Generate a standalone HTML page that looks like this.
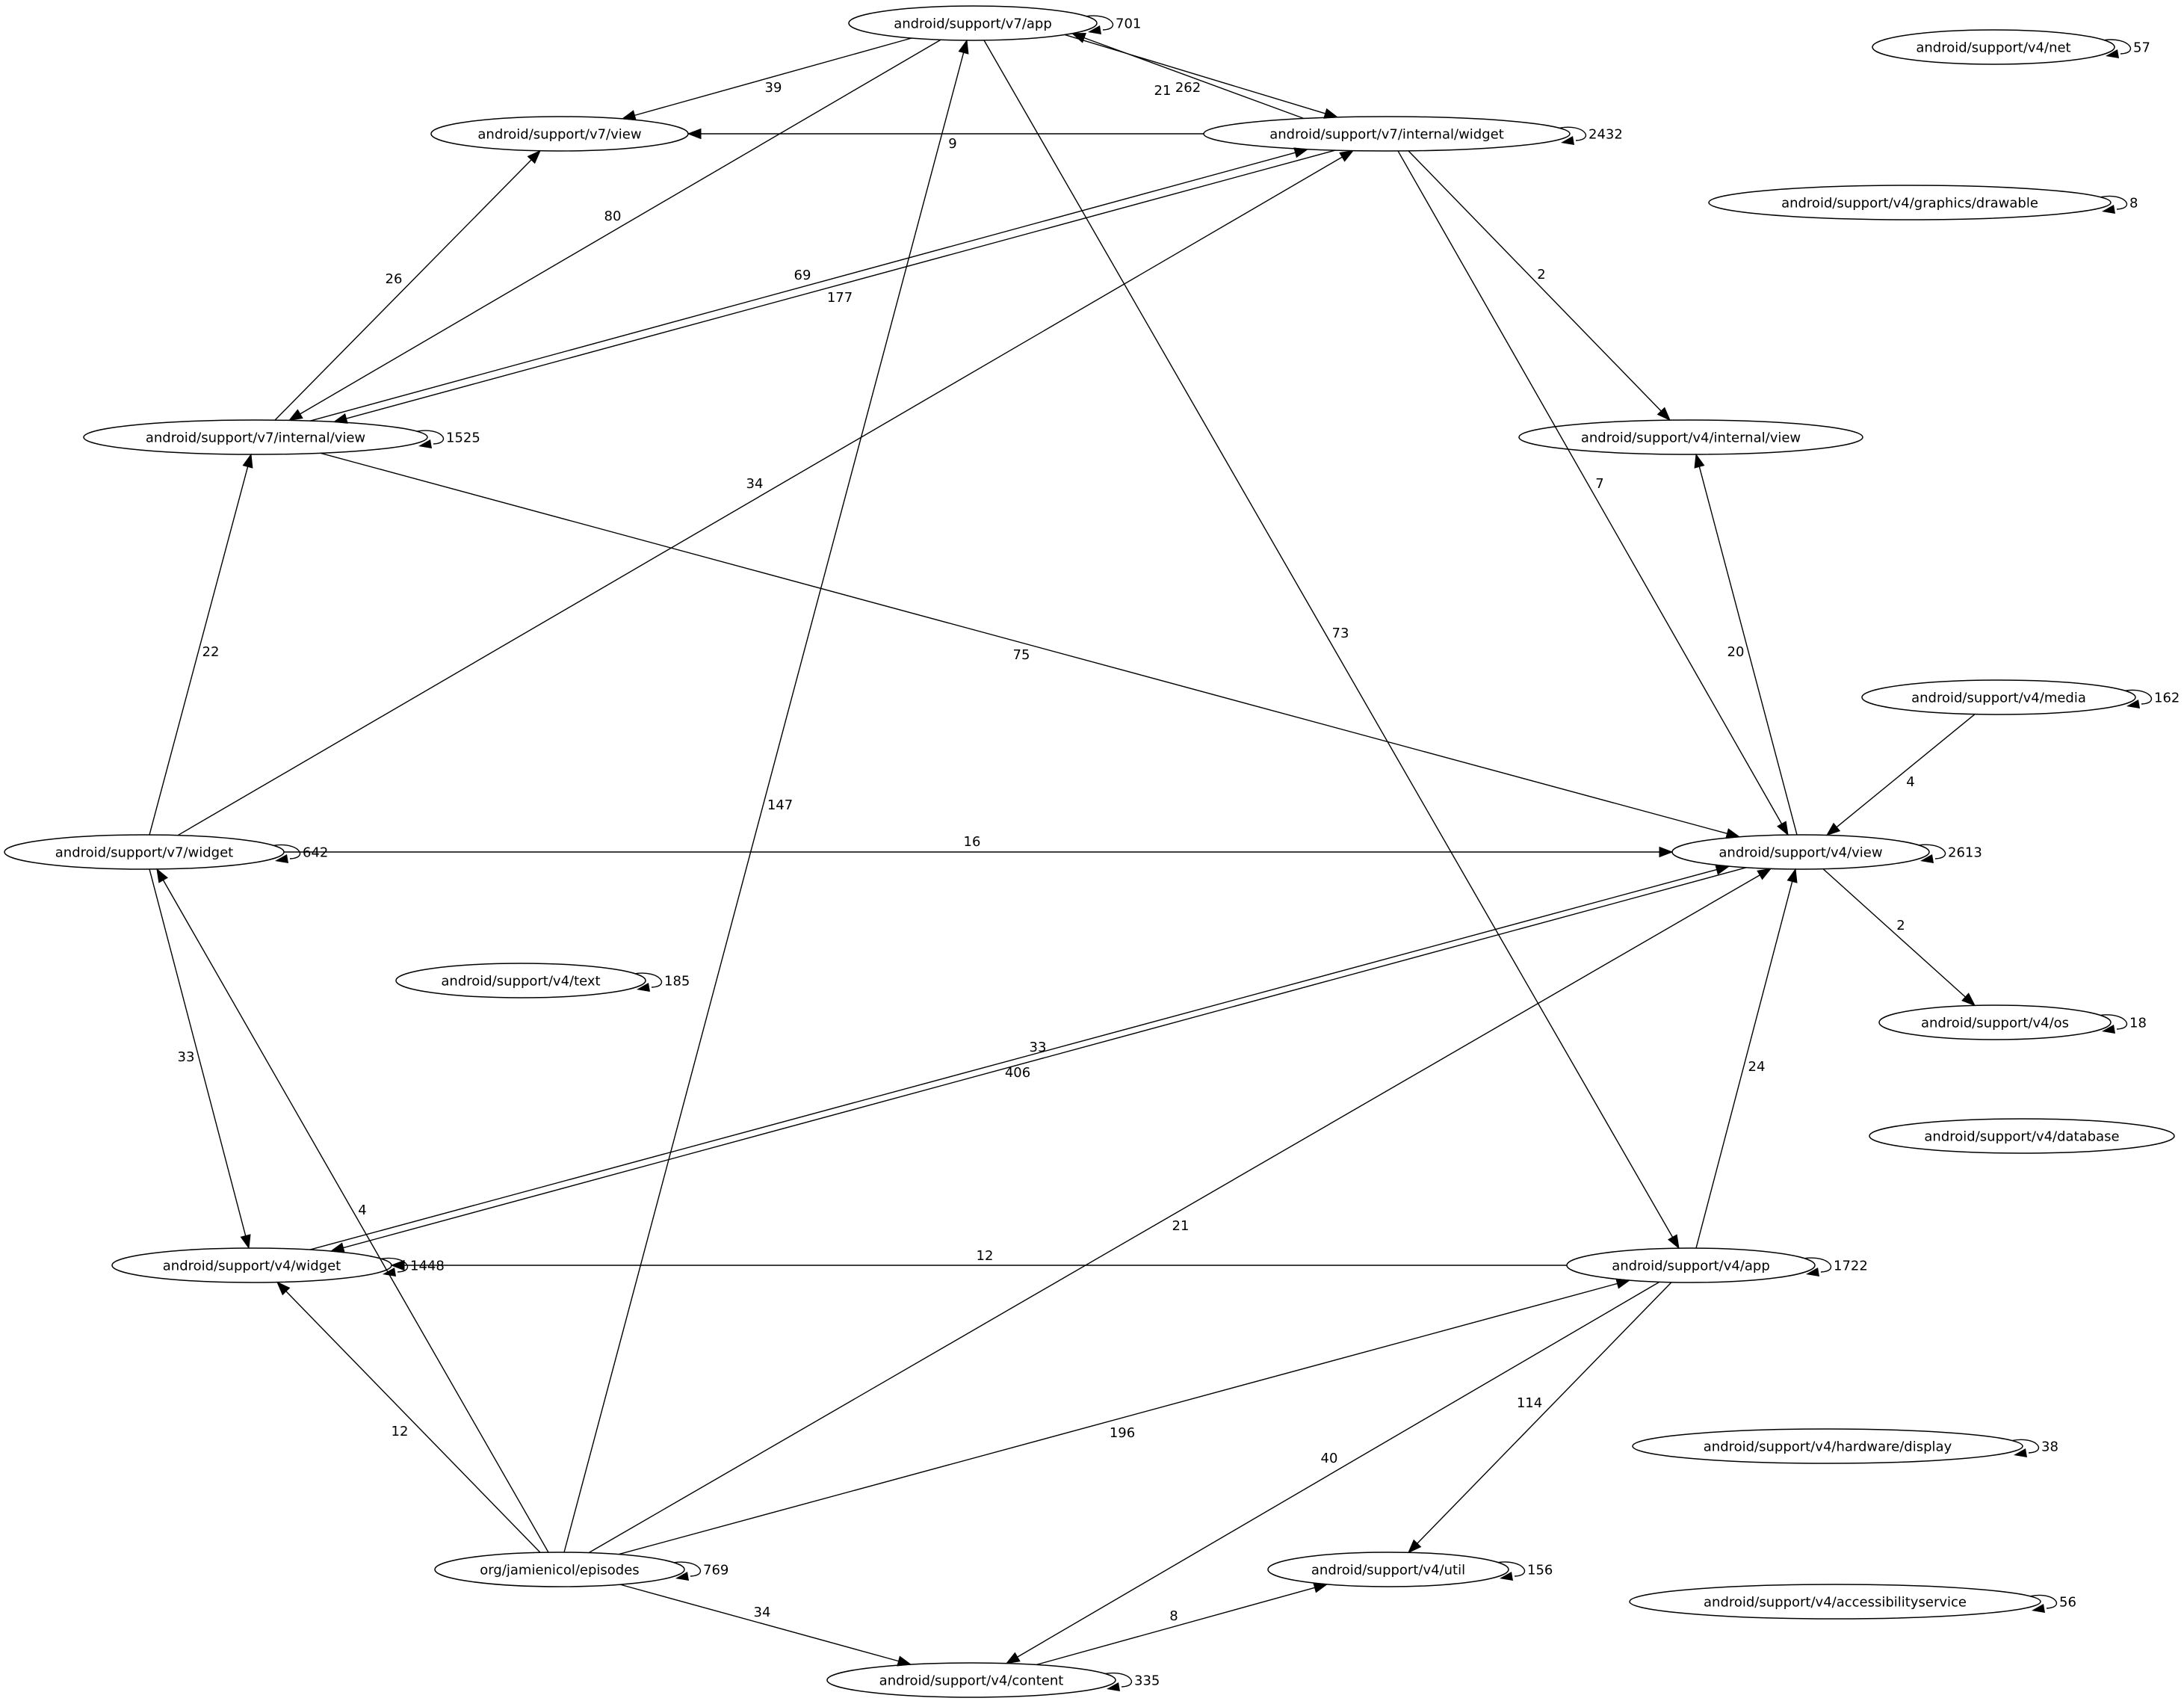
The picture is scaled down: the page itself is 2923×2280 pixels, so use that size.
<!DOCTYPE html>
<html><head><meta charset="utf-8">
<style>
html,body{margin:0;padding:0;background:#fff;}
svg{display:block;}
text{font-family:"DejaVu Sans","Liberation Sans",sans-serif;font-size:18px;fill:#000;}
</style></head>
<body>
<svg id="g" xmlns="http://www.w3.org/2000/svg" width="2923" height="2280" viewBox="0 0 2923 2280"></svg>
<script>
var N={
app7:[1302,31,166,"android/support/v7/app",1],
view7:[749,179,172,"android/support/v7/view",0],
iw7:[1856,179,245,"android/support/v7/internal/widget",1],
net:[2668,63,162,"android/support/v4/net",1],
draw:[2556,271,269,"android/support/v4/graphics/drawable",1],
iv7:[342,585,230,"android/support/v7/internal/view",1],
iv4:[2263,585,230,"android/support/v4/internal/view",0],
media:[2675,933,183,"android/support/v4/media",1],
w7:[193,1140,187,"android/support/v7/widget",1],
view4:[2410,1140,172,"android/support/v4/view",1],
text:[697,1312,167,"android/support/v4/text",1],
os:[2670,1368,155,"android/support/v4/os",1],
db:[2706,1520,204,"android/support/v4/database",0],
w4:[337,1693,187,"android/support/v4/widget",1],
app4:[2263,1693,166,"android/support/v4/app",1],
hw:[2446,1935,261,"android/support/v4/hardware/display",1],
ep:[749,2100,167,"org/jamienicol/episodes",1],
util:[1858,2100,161,"android/support/v4/util",1],
acc:[2456,2143,275,"android/support/v4/accessibilityservice",1],
content:[1300,2248,193,"android/support/v4/content",1]
};
var loops={app7:"701",iw7:"2432",net:"57",draw:"8",iv7:"1525",media:"162",w7:"642",view4:"2613",text:"185",os:"18",w4:"1448",app4:"1722",hw:"38",ep:"769",util:"156",acc:"56",content:"335"};
var RY=23;
var E=[
["app7","view7","39",1035,116,1220,833],
["app7","iw7","262",1590,116,1425,1790],
["iw7","app7","21",1556,120,1745,1435],
["app7","iv7","80",820,288,1259,387],
["app7","app4","73",1794,846,1317,2247],
["iw7","view7","9",1275,191,'h','h'],
["iw7","iv4","2",2063,366,1885,2235],
["iw7","view4","7",2141,646,1871,2393],
["iv7","iw7","69",1074,367,415,1750],
["iw7","iv7","177",1124,397,1787,447],
["iv7","view7","26",527,372,368,723],
["iv7","view4","75",1367,875,429,2328],
["w7","iv7","22",282,871,200,336],
["w7","iw7","34",1010,646,238,1811],
["w7","view4","16",1301,1125,'h','h'],
["w7","w4","33",249,1413,200,333],
["view4","iv4","20",2323,871,2405,2270],
["media","view4","4",2557,1045,2643,2445],
["view4","os","2",2544,1237,2440,2643],
["w4","view4","33",1389,1400,415,2314],
["view4","w4","406",1362,1434,2337,443],
["app4","view4","24",2351,1426,2270,2403],
["app4","w4","12",1318,1679,'h','h'],
["app4","util","114",2047,1876,2237,1885],
["app4","content","40",1779,1950,2221,1347],
["ep","w4","12",535,1914,723,371],
["ep","w7","4",485,1618,734,210],
["ep","app7","147",1044,1076,755,1294],
["ep","view4","21",1580,1639,788,2370],
["ep","app4","196",1502,1916,828,2181],
["ep","content","34",1020,2156,830,1219],
["content","util","8",1571,2161,1387,1776]
];
var s="";
function bpt(n,x,up){var c=N[n];var t=(x-c[0])/c[2];if(t>0.98)t=0.98;if(t<-0.98)t=-0.98;var dy=RY*Math.sqrt(1-t*t);return [x,up?c[1]-dy:c[1]+dy];}
function arrow(x1,y1,x2,y2){var dx=x2-x1,dy=y2-y1,L=Math.sqrt(dx*dx+dy*dy),ux=dx/L,uy=dy/L,al=17,aw=6.5;
var bx=x2-ux*al,by=y2-uy*al;
s+='<line x1="'+x1+'" y1="'+y1+'" x2="'+bx+'" y2="'+by+'" stroke="#000" stroke-width="1.4"/>';
s+='<polygon points="'+x2+','+y2+' '+(bx-uy*aw)+','+(by+ux*aw)+' '+(bx+uy*aw)+','+(by-ux*aw)+'" fill="#000" stroke="#000" stroke-width="1"/>';}
for(var k in N){var c=N[k];
s+='<ellipse cx="'+c[0]+'" cy="'+c[1]+'" rx="'+c[2]+'" ry="'+RY+'" fill="#fff" stroke="#000" stroke-width="1.5"/>';
s+='<text x="'+c[0]+'" y="'+(c[1]+6.5)+'" text-anchor="middle">'+c[3]+'</text>';}
E.forEach(function(e){var a=N[e[0]],b=N[e[1]],p,q;
if(e[5]==='h'){var dir=b[0]>a[0]?1:-1;p=[a[0]+dir*a[2],a[1]];q=[b[0]-dir*b[2],a[1]];}
else{var up=b[1]<a[1];p=bpt(e[0],e[5],up);q=bpt(e[1],e[6],!up);}
arrow(p[0],p[1],q[0],q[1]);
s+='<text x="'+e[3]+'" y="'+(e[4]+7)+'" text-anchor="middle">'+e[2]+'</text>';});
for(var k in loops){var c=N[k];var ex=c[0]+c[2];var sx=ex-14;
var p1=bpt(k,sx,true);
s+='<path d="M'+p1[0]+','+p1[1]+' C'+(ex+20)+','+(c[1]-14)+' '+(ex+34)+','+(c[1]+8)+' '+(ex+8)+','+(c[1]+9)+'" fill="none" stroke="#000" stroke-width="1.4"/>';
var tx=ex-12,ty=c[1]+12;
s+='<polygon points="'+tx+','+ty+' '+(tx+16)+','+(ty-9)+' '+(tx+18)+','+(ty+3)+'" fill="#000"/>';
s+='<text x="'+(ex+25)+'" y="'+(c[1]+6.5)+'">'+loops[k]+'</text>';}
document.getElementById('g').innerHTML=s;
</script>
</body></html>
